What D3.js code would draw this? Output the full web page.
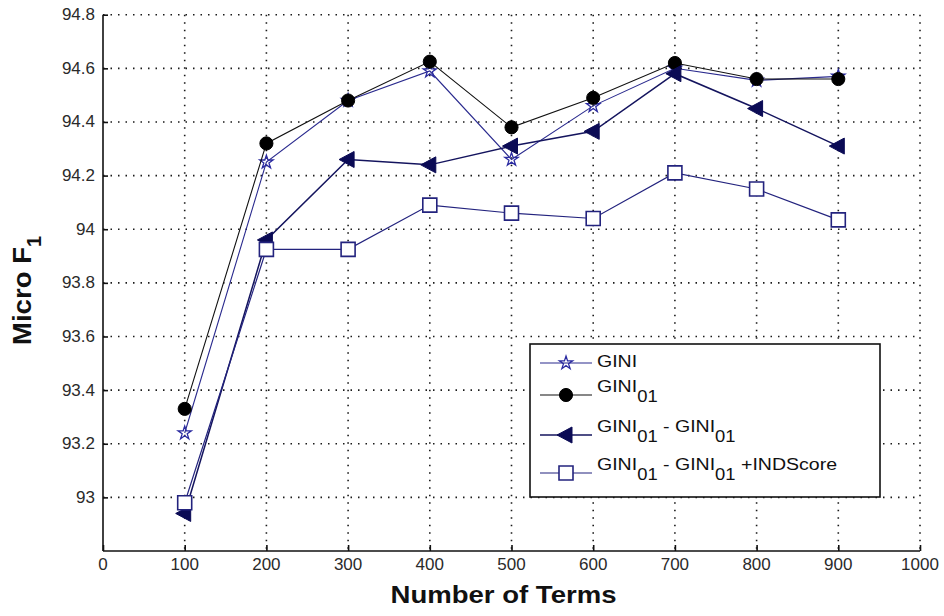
<!DOCTYPE html>
<html>
<head>
<meta charset="utf-8">
<script src="https://cdn.jsdelivr.net/npm/d3@7"></script>
<style>
  html, body { margin: 0; padding: 0; background: #ffffff; }
  svg { display: block; font-family: "Liberation Sans", Arial, sans-serif; }
</style>
</head>
<body>
<svg id="chart" width="944" height="616"></svg>
<script>
// Number of selected terms on the x axis
const terms = [100, 200, 300, 400, 500, 600, 700, 800, 900];

// Micro F1 for each feature-selection method
const giniValues        = [93.24, 94.25, 94.48, 94.59, 94.26, 94.46, 94.60, 94.555, 94.57];
const gini01Values      = [93.33, 94.32, 94.48, 94.625, 94.38, 94.49, 94.62, 94.56, 94.56];
const giniDiffValues    = [92.94, 93.96, 94.26, 94.24, 94.31, 94.365, 94.58, 94.45, 94.31];
const giniDiffIndValues = [92.98, 93.925, 93.925, 94.09, 94.06, 94.04, 94.21, 94.15, 94.035];

// Axis ticks
const xTicks = [0, 100, 200, 300, 400, 500, 600, 700, 800, 900, 1000];
const yTicks = [93, 93.2, 93.4, 93.6, 93.8, 94, 94.2, 94.4, 94.6, 94.8];
const yTickLabels = ["93", "93.2", "93.4", "93.6", "93.8", "94", "94.2", "94.4", "94.6", "94.8"];

// Legend labels: [text, isSubscript]
const seriesLabels = [
  [["GINI", 0]],
  [["GINI", 0], ["01", 1]],
  [["GINI", 0], ["01", 1], [" - ", 0], ["GINI", 0], ["01", 1]],
  [["GINI", 0], ["01", 1], [" - ", 0], ["GINI", 0], ["01", 1], [" +INDScore", 0]]
];

const svg = d3.select("#chart");
const plot = { left: 103, right: 920, top: 14.7, bottom: 551 };

const x = d3.scaleLinear().domain([0, 1000]).range([plot.left, plot.right]);
const y = d3.scaleLinear().domain([92.8, 94.8]).range([plot.bottom, plot.top]);

// Dotted grid
const grid = svg.append("g")
  .attr("stroke", "#1a1a1a")
  .attr("stroke-width", 1.6)
  .attr("stroke-dasharray", "1.5,6")
  .attr("fill", "none");
grid.selectAll("line.vx").data(xTicks.filter(t => t > 0)).join("line")
  .attr("x1", d => x(d)).attr("x2", d => x(d))
  .attr("y1", plot.top).attr("y2", plot.bottom);
grid.selectAll("line.hy").data(yTicks).join("line")
  .attr("y1", d => y(d)).attr("y2", d => y(d))
  .attr("x1", plot.left).attr("x2", plot.right);

// Axes with inward ticks
const xAxis = d3.axisBottom(x).tickValues(xTicks).tickSizeInner(-6).tickSizeOuter(0).tickFormat("");
const yAxis = d3.axisLeft(y).tickValues(yTicks).tickSizeInner(-5).tickSizeOuter(0).tickFormat("");

const gx = svg.append("g").attr("transform", `translate(0,${plot.bottom})`).call(xAxis);
const gy = svg.append("g").attr("transform", `translate(${plot.left},0)`).call(yAxis);
[gx, gy].forEach(g => {
  g.select(".domain").attr("stroke", "#111").attr("stroke-width", 1.6);
  g.selectAll(".tick line").attr("stroke", "#111").attr("stroke-width", 1.6);
});
// axis lines meet at the bottom-left corner
gy.select(".domain").attr("d", `M0,${plot.top}V${plot.bottom}`);
gx.select(".domain").attr("d", `M${plot.left},0H${plot.right}`);

// Tick labels
svg.append("g").selectAll("text").data(xTicks).join("text")
  .attr("x", d => x(d)).attr("y", 570)
  .attr("text-anchor", "middle")
  .attr("font-size", 17).attr("fill", "#2a2a2a")
  .text(d => d);
svg.append("g").selectAll("text").data(yTicks).join("text")
  .attr("x", 95).attr("y", d => y(d) + 5.5)
  .attr("text-anchor", "end")
  .attr("font-size", 17).attr("fill", "#2a2a2a")
  .text((d, i) => yTickLabels[i]);

// Axis titles
svg.append("text")
  .attr("x", 503.5).attr("y", 603)
  .attr("text-anchor", "middle")
  .attr("font-size", 24).attr("font-weight", "bold").attr("fill", "#111")
  .attr("textLength", 226).attr("lengthAdjust", "spacingAndGlyphs")
  .text("Number of Terms");

const yTitle = svg.append("text")
  .attr("transform", "translate(31,345) rotate(-90)")
  .attr("font-size", 26).attr("font-weight", "bold").attr("fill", "#111");
yTitle.append("tspan").attr("textLength", 98).attr("lengthAdjust", "spacingAndGlyphs").text("Micro F");
yTitle.append("tspan").attr("dy", 10).attr("font-size", 20).text("1");

// Marker shapes
const starPath = d3.symbol().type(d3.symbolStar).size(55)();
const circlePath = d3.symbol().type(d3.symbolCircle).size(135)();
const trianglePath = "M-9,0L6,-8L6,8Z";
const squarePath = "M-7,-7H7V7H-7Z";

const series = [
  { values: giniValues, line: "#2a2a8e", lw: 1.1, path: starPath, fill: "none", stroke: "#2a2aa0", sw: 1.3 },
  { values: gini01Values, line: "#111111", lw: 1.1, path: circlePath, fill: "#000", stroke: "#000", sw: 1 },
  { values: giniDiffValues, line: "#14145e", lw: 1.5, path: trianglePath, fill: "#0b0b55", stroke: "#0b0b55", sw: 1 },
  { values: giniDiffIndValues, line: "#23237e", lw: 1.2, path: squarePath, fill: "#fff", stroke: "#23237e", sw: 1.6 }
];

const lineGen = d3.line().x(d => x(d[0])).y(d => y(d[1]));

series.forEach(s => {
  const pts = terms.map((t, i) => [t, s.values[i]]);
  const g = svg.append("g");
  g.append("path").attr("d", lineGen(pts))
    .attr("fill", "none").attr("stroke", s.line).attr("stroke-width", s.lw);
  g.selectAll("path.m").data(pts).join("path")
    .attr("class", "m")
    .attr("transform", d => `translate(${x(d[0])},${y(d[1])})`)
    .attr("d", s.path)
    .attr("fill", s.fill).attr("stroke", s.stroke).attr("stroke-width", s.sw);
});

// Legend
const legend = svg.append("g");
legend.append("rect")
  .attr("x", 530).attr("y", 344).attr("width", 350).attr("height", 153)
  .attr("fill", "#fff").attr("stroke", "#111").attr("stroke-width", 1.6);

const rowY = [363, 395, 435, 473];
series.forEach((s, i) => {
  legend.append("line")
    .attr("x1", 540).attr("x2", 592).attr("y1", rowY[i]).attr("y2", rowY[i])
    .attr("stroke", s.line).attr("stroke-width", s.lw);
  legend.append("path")
    .attr("transform", `translate(566,${rowY[i]})`)
    .attr("d", s.path)
    .attr("fill", s.fill).attr("stroke", s.stroke).attr("stroke-width", s.sw);

  const base = i === 0 ? rowY[i] + 4 : rowY[i] - 3;
  const t = legend.append("text")
    .attr("transform", `translate(597,${base}) scale(1.15,1)`)
    .attr("font-size", 17).attr("fill", "#111")
    .style("white-space", "pre");
  let sub = false;
  seriesLabels[i].forEach(([txt, isSub]) => {
    const ts = t.append("tspan").text(txt);
    if (isSub) ts.attr("font-size", 16);
    if (isSub && !sub) ts.attr("dy", 10);
    else if (!isSub && sub) ts.attr("dy", -10);
    sub = !!isSub;
  });
});
</script>
</body>
</html>
